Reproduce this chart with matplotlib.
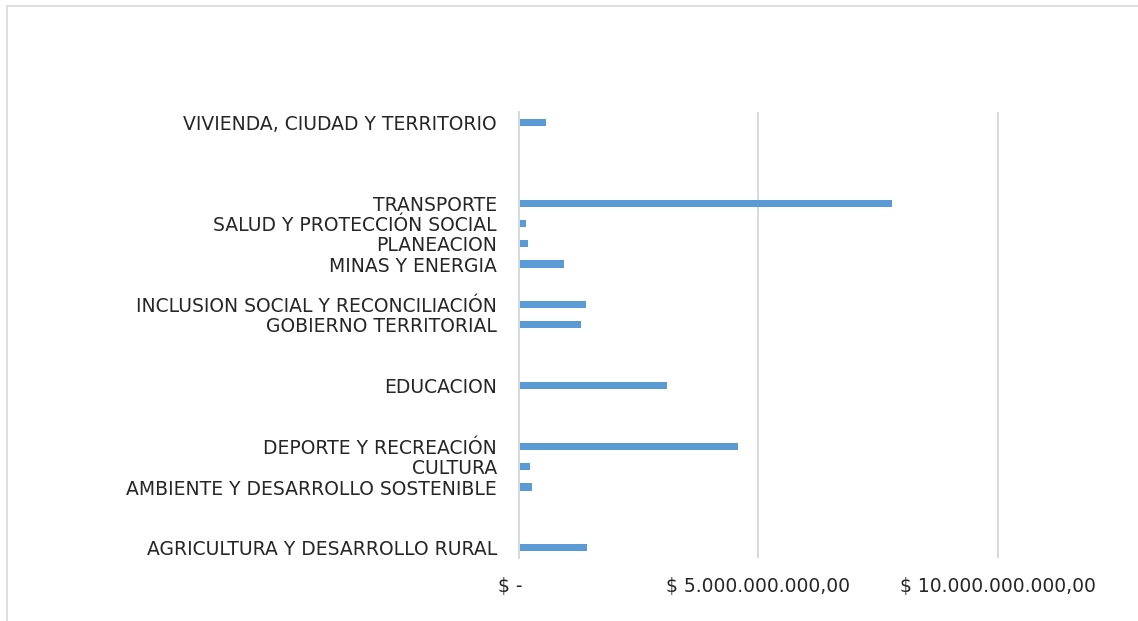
import matplotlib
matplotlib.use("Agg")
import matplotlib.pyplot as plt
from matplotlib.lines import Line2D
from matplotlib.ticker import FuncFormatter, FixedLocator

# sectores (de abajo hacia arriba); las cadenas vacías son filas sin rótulo
sectores = [
    "AGRICULTURA Y DESARROLLO RURAL", "", "",
    "AMBIENTE Y DESARROLLO SOSTENIBLE",
    "CULTURA",
    "DEPORTE Y RECREACIÓN", "", "",
    "EDUCACION", "", "",
    "GOBIERNO TERRITORIAL",
    "INCLUSION SOCIAL Y RECONCILIACIÓN", "",
    "MINAS Y ENERGIA",
    "PLANEACION",
    "SALUD Y PROTECCIÓN SOCIAL",
    "TRANSPORTE", "", "", "",
    "VIVIENDA, CIUDAD Y TERRITORIO",
]
valores = [
    1.43e9, 0, 0,
    0.28e9,
    0.23e9,
    4.57e9, 0, 0,
    3.09e9, 0, 0,
    1.30e9,
    1.40e9, 0,
    0.94e9,
    0.18e9,
    0.15e9,
    7.80e9, 0, 0, 0,
    0.56e9,
]
ticks_x = [0, 5e9, 10e9]

AZUL = "#5B9BD5"
GRIS = "#D9D9D9"
TEXTO = "#262626"

W, H = 1138, 621
fig = plt.figure(figsize=(W / 100, H / 100), dpi=100)
fig.patch.set_facecolor("white")

# marco del área del gráfico (solo bordes superior e izquierdo visibles)
fig.add_artist(Line2D([7 / W, 1], [1 - 6 / H, 1 - 6 / H], color=GRIS, lw=1.2,
                      transform=fig.transFigure))
fig.add_artist(Line2D([7 / W, 7 / W], [0, 1 - 6 / H], color=GRIS, lw=1.2,
                      transform=fig.transFigure))

ax = fig.add_axes([519 / W, (H - 558) / H, (W - 519) / W, 446 / H])
pos = list(range(len(sectores)))
ax.barh(pos, valores, height=0.35, color=AZUL, linewidth=0, zorder=3)

ax.set_ylim(-0.5, len(sectores) - 0.5)
ax.set_xlim(0, (W - 519) / 47.87 * 1e9)
ax.set_yticks(pos)
ax.set_yticklabels(sectores)
ax.xaxis.set_major_locator(FixedLocator(ticks_x))


def pesos(v, _):
    if v == 0:
        return "$ -   "
    s = f"{v:,.2f}".replace(",", "X").replace(".", ",").replace("X", ".")
    return "$ " + s


ax.xaxis.set_major_formatter(FuncFormatter(pesos))
ax.grid(axis="x", color=GRIS, lw=1.4, zorder=0)
for lado in ("top", "right", "bottom"):
    ax.spines[lado].set_visible(False)
ax.spines["left"].set_color(GRIS)
ax.spines["left"].set_linewidth(1.4)
ax.spines["left"].set_zorder(4)

ax.tick_params(axis="y", length=0, pad=16, labelsize=13.5, labelcolor=TEXTO)
ax.tick_params(axis="x", length=0, pad=14, labelsize=13.5, labelcolor=TEXTO)

fig.savefig("out.png", dpi=100, facecolor="white")
